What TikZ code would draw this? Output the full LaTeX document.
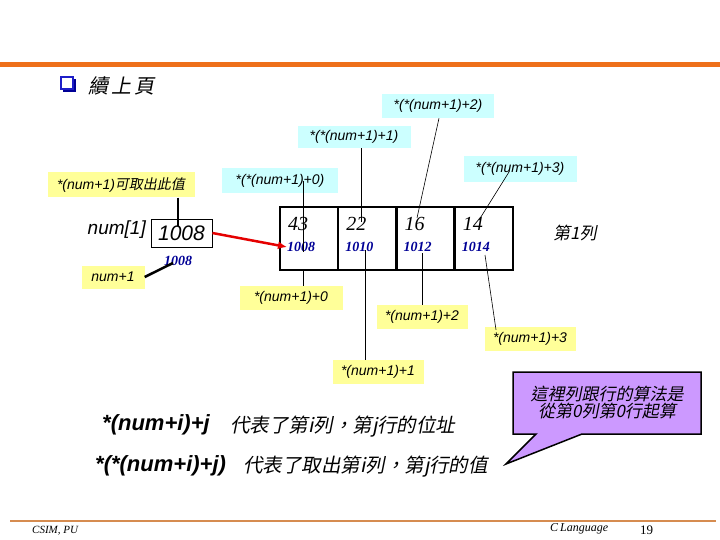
\documentclass[tikz,border=0pt]{standalone}
\usepackage{fontspec}
\setmainfont{Liberation Serif}
\setsansfont{Liberation Sans}
\newfontfamily\cjk[FakeSlant=0.2]{Noto Sans CJK TC}
\usetikzlibrary{arrows.meta,positioning,calc,shapes.callouts}
\definecolor{TopOrange}{RGB}{238,112,26}
\definecolor{FootOrange}{RGB}{214,140,80}
\definecolor{CyanNote}{RGB}{204,255,255}
\definecolor{YellowNote}{RGB}{255,255,153}
\definecolor{PurpleNote}{RGB}{204,153,255}
\definecolor{AddrBlue}{RGB}{0,0,150}
\definecolor{BulletBlue}{RGB}{30,30,200}
\newcommand{\fs}[1]{\fontsize{#1}{#1}\selectfont}

\begin{document}
\begin{tikzpicture}[x=1pt, y=-1pt,
    cyannote/.style={fill=CyanNote, inner sep=0pt, minimum height=24pt, font=\sffamily\itshape\fs{14}},
    yellownote/.style={fill=YellowNote, inner sep=0pt, minimum height=24pt, font=\sffamily\itshape\fs{14}},
    cellbox/.style={draw, line width=2.5pt, outer sep=0pt, minimum width=58.25pt, minimum height=63pt},
    valtext/.style={anchor=west, inner sep=0pt, font=\itshape\fs{20}},
    addrtext/.style={anchor=west, inner sep=0pt, text=AddrBlue, font=\bfseries\itshape\fs{14}},
    pin/.style={line width=0.6pt},
    thickpin/.style={line width=2.5pt}]
  \useasboundingbox (0,0) rectangle (720,540);
  % header and footer
  \draw[TopOrange, line width=5pt] (0,65) -- (720,65);
  \draw[FootOrange, line width=2.5pt] (10,521) -- (716,521);
  \fill[AddrBlue] (63,79) rectangle (76,92);
  \draw[BulletBlue, fill=white, line width=1.2pt] (61,77) rectangle (73,89);
  \node[anchor=west, inner sep=0pt, font=\cjk\fs{20}] (title) at (88,86) {續\,上\,頁};
  \node[anchor=west, inner sep=0pt, font=\itshape\fs{11}] (foot1) at (32,531) {CSIM, PU};
  \node[anchor=west, inner sep=0pt, font=\itshape\fs{12}] (foot2) at (550,529) {C\,Language};
  \node[anchor=west, inner sep=0pt, font=\fs{13}] (foot3) at (640,530) {19};

  % pointer num[1]
  \node[anchor=east, inner sep=0pt, font=\sffamily\itshape\fs{19}] (numone) at (146,230) {num[1]};
  \node[draw, line width=0.8pt, minimum width=61pt, minimum height=28pt, inner sep=0pt,
        font=\sffamily\itshape\fs{21}] (ptrbox) at (181.5,233) {1008};
  \node[addrtext, anchor=center] (ptraddr) at (178,261) {1008};
  \node[yellownote, minimum width=147pt, minimum height=25pt] (noteval) at (121,185)
       {*(num+1){\cjk 可取出此值}};
  \node[yellownote, minimum width=63pt, minimum height=23pt] (notenum) at (113,277) {num+1};
  \draw[thickpin] (noteval.south -| 178,0) -- (178,226);
  \draw[thickpin] (notenum.east) -- (173,263);

  % row 1 of the array
  \node[cellbox] (cell0) at (309.1,238.5) {};
  \node[cellbox, right=0pt of cell0] (cell1) {};
  \node[cellbox, right=0pt of cell1] (cell2) {};
  \node[cellbox, right=0pt of cell2] (cell3) {};
  \foreach \i/\v/\a in {0/43/1008, 1/22/1010, 2/16/1012, 3/14/1014} {
    \node[valtext] (val\i) at ($(cell\i.west)+(8,-15)$) {\v};
    \node[addrtext] (addr\i) at ($(cell\i.west)+(7,8.5)$) {\a};
  }
  \node[anchor=west, inner sep=0pt, font=\cjk\fs{17}] (rowname) at (553,233) {第1列};
  \draw[-{Latex[length=9pt,width=8pt]}, red!90!black, line width=2.5pt] (ptrbox.east) -- (addr0.west);

  % labels above
  \node[cyannote, minimum width=116pt, minimum height=25pt] (cval0) at (280,181) {*(*(num+1)+0)};
  \node[cyannote, minimum width=113pt, minimum height=22pt] (cval1) at (354,137) {*(*(num+1)+1)};
  \node[cyannote, minimum width=112pt] (cval2) at (438,106) {*(*(num+1)+2)};
  \node[cyannote, minimum width=113pt, minimum height=26pt] (cval3) at (520,169) {*(*(num+1)+3)};
  \coordinate (t0) at (303,252);
  \coordinate (t1) at (361,222);
  \coordinate (t2) at (417,218);
  \coordinate (t3) at (479,220);
  \draw[pin] (t0 |- cval0.center) -- (t0);
  \draw[pin] (t1 |- cval1.south) -- (t1);
  \draw[pin] ($(cval2.south)+(1,0)$) -- (t2);
  \draw[pin] ($(cval3.center)+(-11,3)$) -- (t3);

  % labels below
  \node[yellownote, minimum width=103pt] (yaddr0) at (291,298) {*(num+1)+0};
  \node[yellownote, minimum width=91pt] (yaddr1) at (378,372) {*(num+1)+1};
  \node[yellownote, minimum width=91pt] (yaddr2) at (422,317) {*(num+1)+2};
  \node[yellownote, minimum width=91pt] (yaddr3) at (530,339) {*(num+1)+3};
  \draw[pin] (t0 |- cell0.south) -- (t0 |- yaddr0.north);
  \draw[pin] (365,250) -- (365,0 |- yaddr1.north);
  \draw[pin] (422,253) -- (yaddr2.north);
  \draw[pin] (485,255) -- ($(yaddr3.north)+(-34,3)$);

  % notes
  \node[anchor=west, inner sep=0pt, font=\sffamily\bfseries\itshape\fs{22}] (rule1) at (102,425) {*(num+i)+j};
  \node[anchor=west, inner sep=0pt, font=\cjk\fs{19.5}] (rule1txt) at (230,427) {代表了第i列，第j行的位址};
  \node[anchor=west, inner sep=0pt, font=\sffamily\bfseries\itshape\fs{22}] (rule2) at (95,466) {*(*(num+i)+j)};
  \node[anchor=west, inner sep=0pt, font=\cjk\fs{19.5}] (rule2txt) at (243,467) {代表了取出第i列，第j行的值};
  \node[rectangle callout, callout absolute pointer={(506,464)}, callout pointer width=46pt,
        draw, line width=1.5pt, fill=PurpleNote, minimum width=188pt, minimum height=62pt,
        align=center, font=\cjk\fs{17}, inner sep=2pt] (hint) at (607,403)
       {這裡列跟行的算法是\\從第0列第0行起算};
\end{tikzpicture}
\end{document}
